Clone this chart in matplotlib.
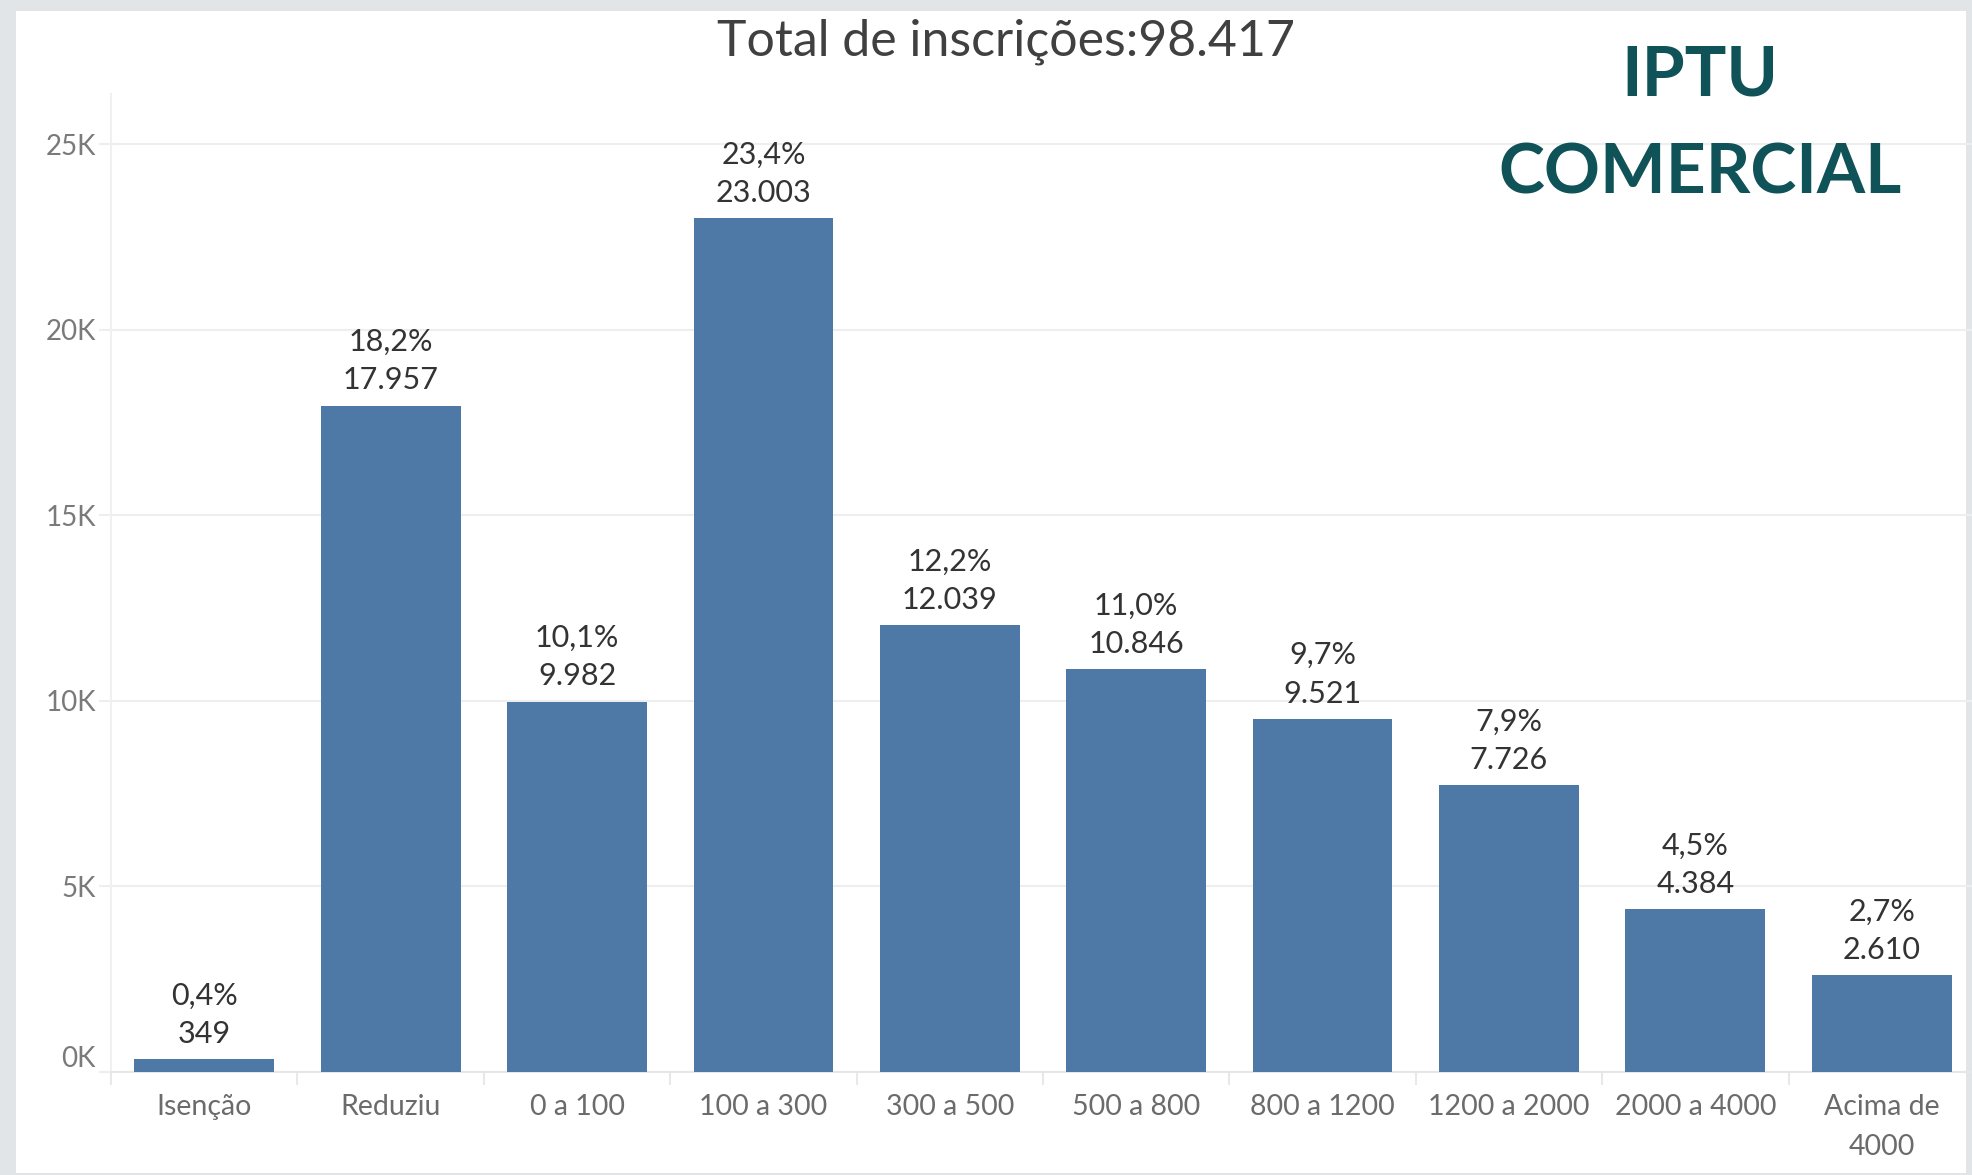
import matplotlib
matplotlib.use("Agg")
import matplotlib.pyplot as plt
from matplotlib.patches import Rectangle
from matplotlib.ticker import FixedLocator

plt.rcParams['font.family'] = ['Lato', 'DejaVu Sans']

# dados
categorias = ["Isenção", "Reduziu", "0 a 100", "100 a 300", "300 a 500", "500 a 800",
              "800 a 1200", "1200 a 2000", "2000 a 4000", "Acima de\n4000"]
inscricoes = [349, 17957, 9982, 23003, 12039, 10846, 9521, 7726, 4384, 2610]
percentuais = ["0,4%", "18,2%", "10,1%", "23,4%", "12,2%", "11,0%", "9,7%", "7,9%", "4,5%", "2,7%"]
y_ticks = [0, 5000, 10000, 15000, 20000, 25000]
y_labels = ["0K", "5K", "10K", "15K", "20K", "25K"]
total = 98417

W, H = 1972, 1175
fig = plt.figure(figsize=(W / 100, H / 100), dpi=100)
fig.patch.set_facecolor("#e1e5e8")
# painel branco atrás de tudo
fig.patches.append(Rectangle((16 / W, (H - 1173) / H), (1966 - 16) / W, (1173 - 11) / H,
                             transform=fig.transFigure, facecolor="white", edgecolor="none", zorder=-10))

ax = fig.add_axes([111 / W, (H - 1072) / H, 1864 / W, 978 / H])
ax.set_facecolor("none")

x = list(range(len(categorias)))
bars = ax.bar(x, inscricoes, width=0.75, color="#4e79a7", zorder=3)

for xi, v, p in zip(x, inscricoes, percentuais):
    ax.annotate(p + "\n" + f"{v:,}".replace(",", "."), (xi, v), xytext=(0, 8),
                textcoords="offset points", ha="center", va="bottom",
                fontsize=22, color="#333333", linespacing=1.45, zorder=4)

ax.set_xlim(-0.5, len(categorias) - 0.5)
ax.set_ylim(0, 26350)

ax.set_xticks(x)
ax.set_xticklabels(categorias, fontsize=20.5, color="#6b6b6b", linespacing=1.65)
ax.xaxis.set_minor_locator(FixedLocator([i - 0.5 for i in range(len(categorias) + 1)]))
ax.tick_params(axis="x", which="major", length=0, pad=16)
ax.tick_params(axis="x", which="minor", length=9, width=1.5, color="#e8e8e8")

ax.set_yticks(y_ticks)
ax.set_yticklabels(y_labels, fontsize=20, color="#7a7a7a")
ax.tick_params(axis="y", length=9, width=1.5, color="#eeeeee", pad=2)
ax.get_yticklabels()[0].set_verticalalignment("bottom")

ax.grid(axis="y", color="#eeeeee", linewidth=1.5, zorder=0)
for s in ["top", "right"]:
    ax.spines[s].set_visible(False)
ax.spines["left"].set_color("#f0f0f0")
ax.spines["left"].set_linewidth(1.5)
ax.spines["bottom"].set_color("#e6e6e6")
ax.spines["bottom"].set_linewidth(1.5)

fig.text(1006 / W, 1 - 42 / H, "Total de inscrições:" + f"{total:,}".replace(",", "."),
         ha="center", va="center", fontsize=36, color="#404040")
fig.text(1700 / W, 1 - 76 / H, "IPTU", ha="center", va="center",
         fontsize=50, fontweight="bold", color="#0f5257")
fig.text(1700 / W, 1 - 174 / H, "COMERCIAL", ha="center", va="center",
         fontsize=50, fontweight="bold", color="#0f5257")

fig.savefig("out.png", dpi=100)
